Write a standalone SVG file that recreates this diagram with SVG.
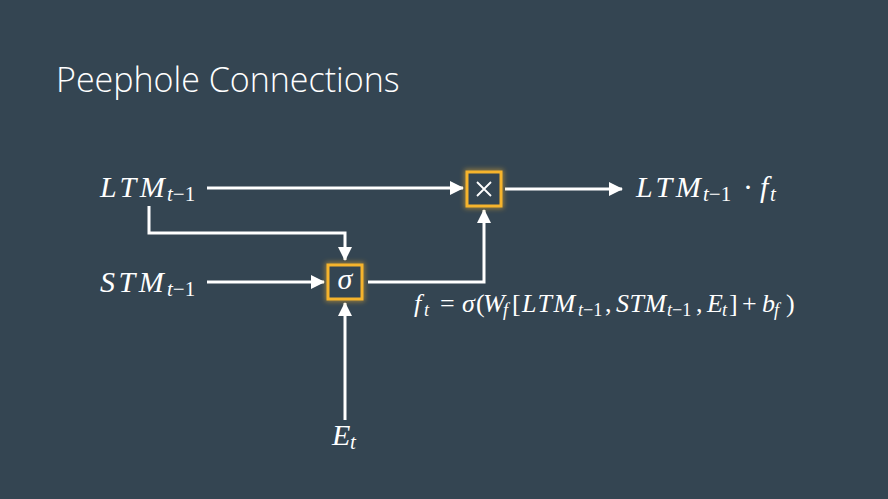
<svg xmlns="http://www.w3.org/2000/svg" width="888" height="499" viewBox="0 0 888 499">
<defs>
<style>
.bg{fill:#344552}
.title{font-family:"Open Sans","Liberation Sans",sans-serif;font-weight:300;font-size:34px;fill:#ffffff}
.m{font-family:"Liberation Serif","DejaVu Serif",serif;font-style:italic;font-size:30px;fill:#ffffff}
.f{font-family:"Liberation Serif","DejaVu Serif",serif;font-style:italic;font-size:26px;fill:#ffffff}
.u{font-style:normal}
.sub{font-size:70%;letter-spacing:0}
.big{letter-spacing:3.5px}
.mid{letter-spacing:1.5px}
.tight{letter-spacing:0.5px}
.ln{fill:none;stroke:#ffffff;stroke-width:3}
.box{fill:#344552;stroke:#f6b42c;stroke-width:3}
.glow{fill:none;stroke:#f6b42c;stroke-width:5;opacity:0.55;filter:url(#blur)}
</style>
<filter id="blur" x="-50%" y="-50%" width="200%" height="200%"><feGaussianBlur stdDeviation="2.5"/></filter>
<marker id="ah" markerWidth="14" markerHeight="14" refX="13" refY="7" orient="auto" markerUnits="userSpaceOnUse"><path d="M0,0 L14,7 L0,14 Z" fill="#ffffff"/></marker>
</defs>
<rect class="bg" x="0" y="0" width="888" height="499"/>
<text class="title" x="56" y="92">Peephole Connections</text>
<g id="connectors">
<path class="ln" d="M207,188 L463,188" marker-end="url(#ah)"/>
<path class="ln" d="M505,189 L622,189" marker-end="url(#ah)"/>
<path class="ln" d="M149,206 L149,233 L345,233 L345,260" marker-end="url(#ah)"/>
<path class="ln" d="M207,282 L324,282" marker-end="url(#ah)"/>
<path class="ln" d="M368,282 L484,282 L484,210" marker-end="url(#ah)"/>
<path class="ln" d="M345,420 L345,303" marker-end="url(#ah)"/>
</g>
<g id="ltm"><text class="m"><tspan class="big" x="100" y="197">LTM</tspan><tspan class="sub" x="167" y="201">t</tspan><tspan class="sub u">−1</tspan></text></g>
<g id="stm"><text class="m"><tspan class="big" x="100" y="292">STM</tspan><tspan class="sub" x="167" y="296">t</tspan><tspan class="sub u">−1</tspan></text></g>
<g id="et"><text class="m"><tspan x="332" y="445">E</tspan><tspan class="sub" x="350" y="449">t</tspan></text></g>
<g id="mult">
<rect class="glow" x="467" y="172" width="34" height="34"/>
<rect class="box" x="467" y="172" width="34" height="34"/>
<path d="M477,182 L491,196 M491,182 L477,196" stroke="#ffffff" stroke-width="1.8" fill="none"/>
</g>
<g id="sigma">
<rect class="glow" x="328" y="265" width="34" height="34"/>
<rect class="box" x="328" y="265" width="34" height="34"/>
<text class="m" x="345" y="289" text-anchor="middle" font-size="26">σ</text>
</g>
<g id="out"><text class="m"><tspan class="big" x="636" y="197">LTM</tspan><tspan class="sub" x="703" y="201">t</tspan><tspan class="sub u">−1</tspan><tspan class="u" x="743" y="197">·</tspan><tspan x="760" y="197">f</tspan><tspan class="sub" x="770" y="201">t</tspan></text></g>
<g id="formula"><text class="f"><tspan x="414" y="312">f</tspan><tspan class="sub" x="424" y="316">t</tspan><tspan class="u" x="440" y="312">=</tspan><tspan x="462" y="312">σ</tspan><tspan class="u" x="476" y="312">(</tspan><tspan x="483" y="312">W</tspan><tspan class="sub" x="503" y="316">f</tspan><tspan class="u" x="512" y="312">[</tspan><tspan class="mid" x="522" y="312">LTM</tspan><tspan class="sub" x="578" y="316">t</tspan><tspan class="sub u">−1</tspan><tspan class="u" x="605" y="312">,</tspan><tspan class="tight" x="616" y="312">STM</tspan><tspan class="sub" x="667" y="316">t</tspan><tspan class="sub u">−1</tspan><tspan class="u" x="696" y="312">,</tspan><tspan x="707" y="312">E</tspan><tspan class="sub" x="722" y="316">t</tspan><tspan class="u" x="729" y="312">]</tspan><tspan class="u" x="742" y="312">+</tspan><tspan x="762" y="312">b</tspan><tspan class="sub" x="774" y="316">f</tspan><tspan class="u" x="786" y="312">)</tspan></text></g>
</svg>
